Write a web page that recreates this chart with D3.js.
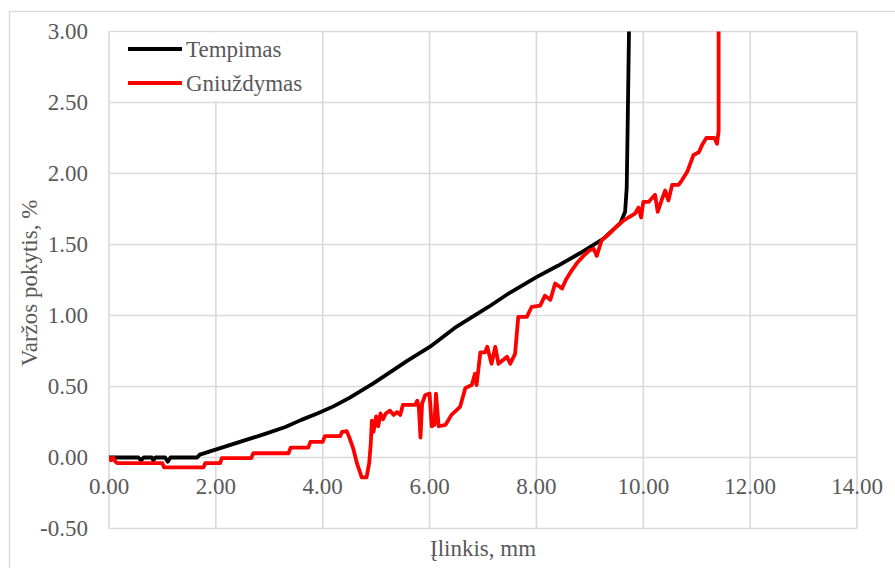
<!DOCTYPE html>
<html>
<head>
<meta charset="utf-8">
<script src="https://cdn.jsdelivr.net/npm/d3@7"></script>
<style>
  html, body { margin: 0; padding: 0; background: #fff; }
  svg { display: block; }
  text { font-family: "Liberation Serif", "Times New Roman", serif; fill: #595959; }
</style>
</head>
<body>
<svg id="chart" width="895" height="568"></svg>
<script>
// Deflection (mm) vs. resistance change (%) for tension and compression
const xTicks = [0, 2, 4, 6, 8, 10, 12, 14];
const yTicks = [-0.5, 0, 0.5, 1.0, 1.5, 2.0, 2.5, 3.0];
const seriesNames = ["Tempimas", "Gniuždymas"];
const seriesColors = ["#000000", "#ff0000"];

// Tempimas
const tempX = [0, 0.55, 0.6, 0.65, 0.8, 0.83, 0.87, 1.05, 1.1, 1.15, 1.65, 1.7, 1.95, 2.2, 2.45, 2.7, 2.95, 3.3, 3.6, 3.9, 4.2, 4.5, 4.94, 5.3, 5.58, 6.01, 6.5, 7.1, 7.5, 8.0, 8.4, 8.82, 9.25, 9.57, 9.66, 9.69, 9.71, 9.74];
const tempY = [0, 0, -0.02, 0, 0, -0.02, 0, 0, -0.03, 0, 0, 0.02, 0.05, 0.08, 0.11, 0.14, 0.17, 0.215, 0.265, 0.31, 0.36, 0.42, 0.52, 0.61, 0.68, 0.78, 0.92, 1.06, 1.16, 1.27, 1.35, 1.44, 1.54, 1.65, 1.73, 1.9, 2.4, 3.2];

// Gniuždymas
const gniuzX = [0, 0.04, 0.08, 0.12, 0.16, 1.0, 1.03, 1.77, 1.8, 2.08, 2.11, 2.66, 2.7, 3.36, 3.4, 3.73, 3.77, 4.0, 4.04, 4.33, 4.36, 4.45, 4.5, 4.57, 4.64, 4.73, 4.82, 4.87, 4.9, 4.92, 4.95, 5.0, 5.04, 5.08, 5.13, 5.18, 5.26, 5.33, 5.39, 5.45, 5.5, 5.73, 5.77, 5.8, 5.83, 5.86, 5.92, 6.0, 6.04, 6.09, 6.12, 6.17, 6.3, 6.41, 6.57, 6.67, 6.79, 6.85, 6.88, 6.95, 7.04, 7.08, 7.16, 7.23, 7.29, 7.45, 7.51, 7.6, 7.66, 7.82, 7.91, 8.07, 8.16, 8.26, 8.35, 8.48, 8.55, 8.63, 8.76, 8.88, 9.0, 9.07, 9.13, 9.22, 9.35, 9.48, 9.6, 9.72, 9.85, 9.91, 9.96, 10.0, 10.1, 10.22, 10.27, 10.35, 10.41, 10.47, 10.54, 10.66, 10.72, 10.82, 10.88, 10.94, 11.04, 11.1, 11.18, 11.33, 11.38, 11.41, 11.41];
const gniuzY = [0, -0.02, 0, -0.03, -0.04, -0.04, -0.07, -0.07, -0.04, -0.04, -0.005, -0.005, 0.03, 0.03, 0.07, 0.07, 0.11, 0.11, 0.15, 0.15, 0.18, 0.185, 0.14, 0.065, -0.04, -0.14, -0.14, -0.04, 0.1, 0.26, 0.18, 0.29, 0.22, 0.31, 0.27, 0.31, 0.33, 0.3, 0.32, 0.3, 0.37, 0.37, 0.4, 0.35, 0.14, 0.38, 0.44, 0.45, 0.22, 0.23, 0.45, 0.22, 0.23, 0.3, 0.356, 0.49, 0.51, 0.59, 0.51, 0.74, 0.74, 0.78, 0.66, 0.78, 0.66, 0.71, 0.66, 0.73, 0.99, 0.99, 1.06, 1.07, 1.14, 1.11, 1.225, 1.19, 1.25, 1.3, 1.37, 1.42, 1.46, 1.47, 1.42, 1.53, 1.57, 1.62, 1.66, 1.69, 1.72, 1.76, 1.69, 1.8, 1.8, 1.85, 1.73, 1.82, 1.88, 1.81, 1.92, 1.92, 1.95, 2.01, 2.07, 2.13, 2.15, 2.2, 2.25, 2.25, 2.21, 2.3, 3.2];

const svg = d3.select("#chart");
const W = 895, H = 568;
const plotL = 109, plotR = 857, plotT = 31.5, plotB = 528.5;

const x = d3.scaleLinear().domain([0, 14]).range([plotL, plotR]);
const y = d3.scaleLinear().domain([-0.5, 3.0]).range([plotB, plotT]);
// two decimals, plain hyphen for negatives
const fmt = v => d3.format(".2f")(v).replace("\u2212", "-");

// chart area border
svg.append("rect")
  .attr("x", 9.5).attr("y", 11.5)
  .attr("width", W + 20).attr("height", H + 20)
  .attr("fill", "#fff").attr("stroke", "#d9d9d9").attr("stroke-width", 1.3);

// gridlines
const grid = svg.append("g").attr("stroke", "#d9d9d9").attr("stroke-width", 1.6);
grid.selectAll("line.v").data(xTicks).join("line")
  .attr("class", "v")
  .attr("x1", d => x(d)).attr("x2", d => x(d))
  .attr("y1", plotT).attr("y2", plotB);
grid.selectAll("line.h").data(yTicks).join("line")
  .attr("class", "h")
  .attr("x1", plotL).attr("x2", plotR)
  .attr("y1", d => y(d)).attr("y2", d => y(d));

// y tick labels
svg.append("g").selectAll("text").data(yTicks).join("text")
  .attr("x", 88).attr("y", d => y(d) + 7.5)
  .attr("text-anchor", "end")
  .attr("font-size", 23)
  .text(d => fmt(d));

// x tick labels, placed next to the zero line
svg.append("g").selectAll("text").data(xTicks).join("text")
  .attr("x", d => x(d)).attr("y", y(0) + 36.5)
  .attr("text-anchor", "middle")
  .attr("font-size", 23)
  .text(d => fmt(d));

// axis titles
svg.append("text")
  .attr("x", 483).attr("y", 556)
  .attr("text-anchor", "middle")
  .attr("font-size", 23)
  .text("Įlinkis, mm");
svg.append("text")
  .attr("transform", "translate(37,283) rotate(-90)")
  .attr("text-anchor", "middle")
  .attr("font-size", 23)
  .text("Varžos pokytis, %");

// clip series to the plot area
svg.append("clipPath").attr("id", "plotClip")
  .append("rect").attr("x", plotL).attr("y", plotT)
  .attr("width", plotR - plotL).attr("height", plotB - plotT);

const line = d3.line().x(d => x(d[0])).y(d => y(d[1]));
const series = [
  d3.zip(tempX, tempY),
  d3.zip(gniuzX, gniuzY)
];

const plot = svg.append("g").attr("clip-path", "url(#plotClip)");
plot.selectAll("path").data(series).join("path")
  .attr("d", line)
  .attr("fill", "none")
  .attr("stroke", (d, i) => seriesColors[i])
  .attr("stroke-width", 3.8)
  .attr("stroke-linejoin", "round")
  .attr("stroke-linecap", "round");

// legend
const legend = svg.append("g");
legend.append("rect")
  .attr("x", 110).attr("y", 32.5).attr("width", 212).attr("height", 68.5)
  .attr("fill", "#fff");
seriesNames.forEach((name, i) => {
  const ly = 49 + i * 34;
  legend.append("line")
    .attr("x1", 128).attr("x2", 182)
    .attr("y1", ly).attr("y2", ly)
    .attr("stroke", seriesColors[i]).attr("stroke-width", 3.8);
  legend.append("text")
    .attr("x", 186).attr("y", ly + 8)
    .attr("font-size", 23)
    .text(name);
});
</script>
</body>
</html>
